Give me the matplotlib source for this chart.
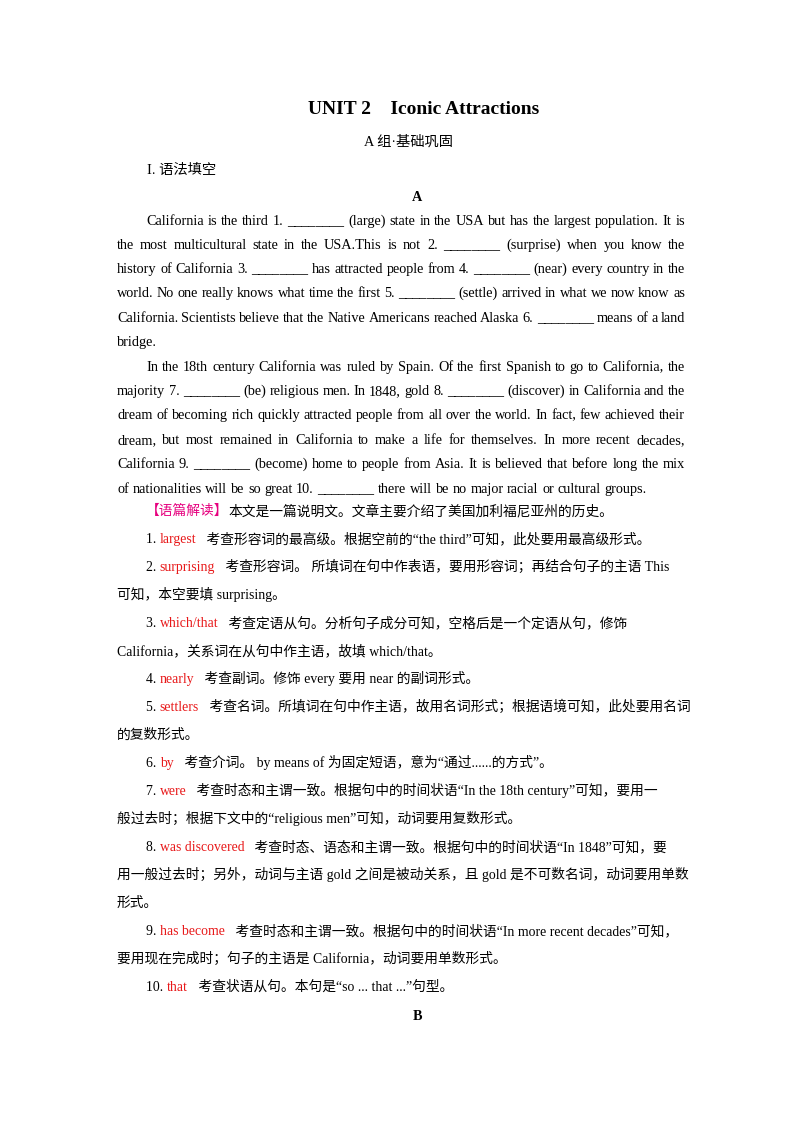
import matplotlib
matplotlib.use("Agg")
import matplotlib.pyplot as plt

FAM = ['Liberation Serif', 'Noto Sans CJK SC']
RED = '#E8191A'
MAG = '#E6007E'
B = '________'

title = "UNIT 2    Iconic Attractions"
subtitle = "A 组·基础巩固"
section = "I. 语法填空"
partA = "A"
partB = "B"

para1 = [
    f"California is the third 1. {B} (large) state in the USA but has the largest population. It is",
    f"the most multicultural state in the USA.This is not 2. {B} (surprise) when you know the",
    f"history of California 3. {B} has attracted people from 4. {B} (near) every country in the",
    f"world. No one really knows what time the first 5. {B} (settle) arrived in what we now know as",
    f"California. Scientists believe that the Native Americans reached Alaska 6. {B} means of a land",
    "bridge.",
]
para2 = [
    "In the 18th century California was ruled by Spain. Of the first Spanish to go to California, the",
    f"majority 7. {B} (be) religious men. In 1848, gold 8. {B} (discover) in California and the",
    "dream of becoming rich quickly attracted people from all over the world. In fact, few achieved their",
    "dream, but most remained in California to make a life for themselves. In more recent decades,",
    f"California 9. {B} (become) home to people from Asia. It is believed that before long the mix",
    f"of nationalities will be so great 10. {B} there will be no major racial or cultural groups.",
]
notes = [
    (146, 515, [("【语篇解读】", MAG), ("本文是一篇说明文。文章主要介绍了美国加利福尼亚州的历史。", 'k')]),
    (146, 543, [("1. ", 'k'), ("largest", RED), ("   考查形容词的最高级。根据空前的“the third”可知，此处要用最高级形式。", 'k')]),
    (146, 571, [("2. ", 'k'), ("surprising", RED), ("   考查形容词。 所填词在句中作表语，要用形容词；再结合句子的主语 This", 'k')]),
    (117, 599, [("可知，本空要填 surprising。", 'k')]),
    (146, 627, [("3. ", 'k'), ("which/that", RED), ("   考查定语从句。分析句子成分可知，空格后是一个定语从句，修饰", 'k')]),
    (117, 655, [("California，关系词在从句中作主语，故填 which/that。", 'k')]),
    (146, 683, [("4. ", 'k'), ("nearly", RED), ("   考查副词。修饰 every 要用 near 的副词形式。", 'k')]),
    (146, 711, [("5. ", 'k'), ("settlers", RED), ("   考查名词。所填词在句中作主语，故用名词形式；根据语境可知，此处要用名词", 'k')]),
    (117, 739, [("的复数形式。", 'k')]),
    (146, 767, [("6. ", 'k'), ("by", RED), ("   考查介词。 by means of 为固定短语，意为“通过......的方式”。", 'k')]),
    (146, 795, [("7. ", 'k'), ("were", RED), ("   考查时态和主谓一致。根据句中的时间状语“In the 18th century”可知，要用一", 'k')]),
    (117, 823, [("般过去时；根据下文中的“religious men”可知，动词要用复数形式。", 'k')]),
    (146, 851, [("8. ", 'k'), ("was discovered", RED), ("   考查时态、语态和主谓一致。根据句中的时间状语“In 1848”可知，要", 'k')]),
    (117, 879, [("用一般过去时；另外，动词与主语 gold 之间是被动关系，且 gold 是不可数名词，动词要用单数", 'k')]),
    (117, 907, [("形式。", 'k')]),
    (146, 935, [("9. ", 'k'), ("has become", RED), ("   考查时态和主谓一致。根据句中的时间状语“In more recent decades”可知，", 'k')]),
    (117, 963, [("要用现在完成时；句子的主语是 California，动词要用单数形式。", 'k')]),
    (146, 991, [("10. ", 'k'), ("that", RED), ("   考查状语从句。本句是“so ... that ...”句型。", 'k')]),
]

W, H = 800, 1132
fig = plt.figure(figsize=(8, 11.32), dpi=100)
r = fig.canvas.get_renderer()
FS = 10.3

def put(x, y, s, color='k', size=FS, ha='left', weight='normal'):
    return fig.text(x / W, 1 - y / H, s, color=color, fontsize=size, family=FAM,
                    ha=ha, va='baseline', fontweight=weight)

def width(t):
    return t.get_window_extent(r).width

def measure(s, size=FS):
    t = put(400, 500, s, size=size)
    w = width(t)
    t.remove()
    return w

SP = measure('a a') - measure('aa')

def justify(x0, x1, y, line, just=True):
    words = line.split(' ')
    ts = [put(x0, y, w) for w in words]
    ws = [width(t) for t in ts]
    gap = (x1 - x0 - sum(ws)) / (len(ws) - 1) if (just and len(ws) > 1) else SP
    x = x0
    for t, w in zip(ts, ws):
        t.set_x(x / W)
        x += w + gap

def para(lines, ys):
    for i, (line, y) in enumerate(zip(lines, ys)):
        x0 = 146 if i == 0 else 117
        justify(x0, 685, y, line, just=(i < len(lines) - 1))

put(424, 114, title, size=14, ha='center', weight='bold')
put(408, 146, subtitle, ha='center')
put(147, 174, section)
put(417, 201, partA, ha='center', weight='bold')
para(para1, [225, 249, 273, 297, 322, 346])
para(para2, [371, 395, 419, 444, 468, 493])

NS = 9.9
for x, y, parts in notes:
    for s, c in parts:
        t = put(x, y, s, color=c, size=NS)
        x += width(t)

put(417, 1020, partB, ha='center', weight='bold')
fig.savefig('out.png', dpi=100, facecolor='white')
